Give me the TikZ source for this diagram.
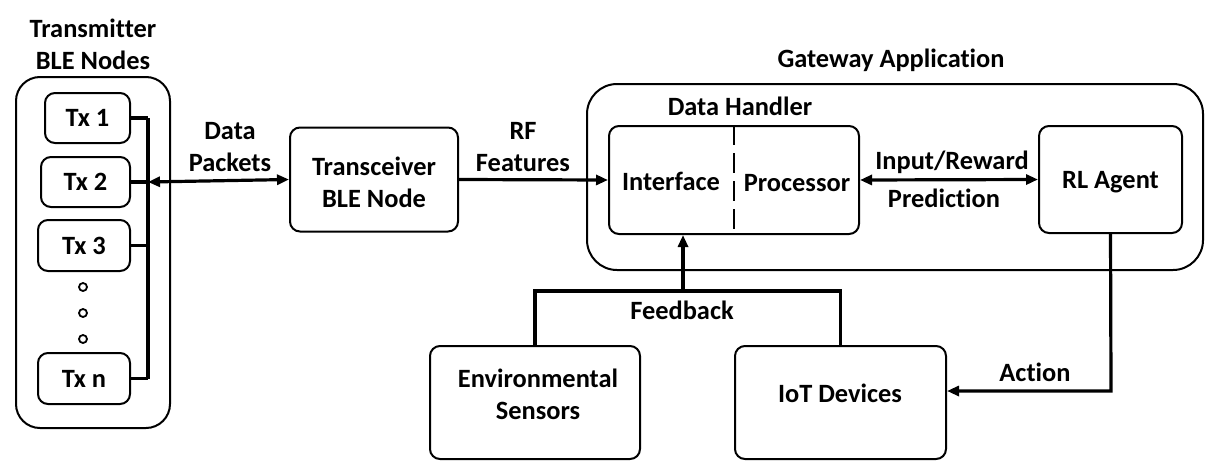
\documentclass[tikz,border=0pt]{standalone}
\usepackage{fontspec}
\setmainfont[Ligatures=NoCommon]{Carlito}
\usetikzlibrary{positioning,arrows.meta}

\begin{document}
\begin{tikzpicture}[x=0.5pt, y=-0.5pt, font=\bfseries\fontsize{13.2}{16}\selectfont] %BLE gateway
            \useasboundingbox (0,0) rectangle (1218,466);
            \tikzstyle{bigbox} = [draw, line width=1pt, rounded corners=12pt, inner sep=0pt]
            \tikzstyle{block} = [draw, line width=1pt, rounded corners=5pt, text centered, align=center, inner sep=0pt]
            \tikzstyle{label} = [text centered, align=center, inner sep=0pt]
            \tikzstyle{wire} = [line width=1.6pt]
            \tikzstyle{arr} = [wire, -{Triangle[length=6pt,width=5pt]}]
            \tikzstyle{darr} = [wire, {Triangle[length=6pt,width=5pt]}-{Triangle[length=6pt,width=5pt]}]
            % transmitters
            \node[bigbox, minimum width=77pt, minimum height=175.5pt] (txbox) at (93,252.5) {};
            \node[label] (txtitle) at (93,44) {Transmitter\\BLE Nodes};
            \node[block, minimum width=42.5pt, minimum height=25pt] (tx1) at (87.5,118) {Tx 1};
            \node[block, minimum width=44.5pt, minimum height=25pt] (tx2) at (85.5,182) {Tx 2};
            \node[block, minimum width=46pt, minimum height=25.5pt] (tx3) at (84,245.5) {Tx 3};
            \node[block, minimum width=46pt, minimum height=25.5pt] (txn) at (84,378.5) {Tx n};
            \foreach \y in {287,313,339}
            {
                \draw[line width=0.9pt] (83,\y) circle (2pt);
            }
            \coordinate (bus) at (148,182);
            \foreach \i in {tx1,tx2,tx3,txn}
            {
                \draw[wire] (\i.east) -- (\i.east -| bus);
            }
            \draw[wire] (tx1.east -| bus) -- (txn.east -| bus);
            % transceiver
            \node[block, minimum width=84pt, minimum height=52pt] (trx) at (374,179.5) {};
            \node[label] (trxtext) at (374,182) {Transceiver\\BLE Node};
            \draw[darr] (bus) -- (trx.west);
            \node[label] (dp) at (230,147) {Data\\Packets};
            % gateway
            \node[bigbox, rounded corners=15pt, minimum width=308pt, minimum height=93pt] (gw) at (895,177) {};
            \node[label] (gwtitle) at (891,60) {Gateway Application};
            \node[block, minimum width=125pt, minimum height=54pt] (dh) at (734,180) {};
            \node[label] (dhtitle) at (740,106) {Data Handler};
            \draw[line width=1.4pt, dash pattern=on 10pt off 4pt] (dh.north) -- (dh.south);
            \node[label] (iface) at (671,181) {Interface};
            \node[label] (proc) at (797,183) {Processor};
            \node[block, minimum width=71.5pt, minimum height=53.5pt] (rl) at (1110.5,179.5) {};
            \node[label] (rltext) at (1110.5,182) {RL Agent};
            \draw[arr] (trx.east) -- (dh.west);
            \node[label] (rf) at (523,147) {RF\\Features};
            \draw[darr] (dh.east) -- (rl.west);
            \node[label] (inp) at (952,162) {Input/Reward};
            \node[label] (pred) at (944,198) {Prediction};
            % sensors and devices
            \node[block, minimum width=105pt, minimum height=56.5pt] (env) at (535,402.5) {};
            \node[label] (envtext) at (538,394) {Environmental\\Sensors};
            \node[block, minimum width=105.5pt, minimum height=56.5pt] (iot) at (840.5,402.5) {};
            \node[label] (iottext) at (840,393) {IoT Devices};
            \coordinate (fb) at (683,291);
            \draw[wire] (env.north) -- (env.north |- fb) -- (iot.north |- fb) -- (iot.north);
            \draw[arr] (fb) -- (fb |- dh.south);
            \node[label] (fbtext) at (682,310) {Feedback};
            \coordinate (act) at (1111,391);
            \draw[arr] (rl.south) -- (act) -- (iot.east |- act);
            \node[label] (acttext) at (1035,372) {Action};
\end{tikzpicture}
\end{document}
